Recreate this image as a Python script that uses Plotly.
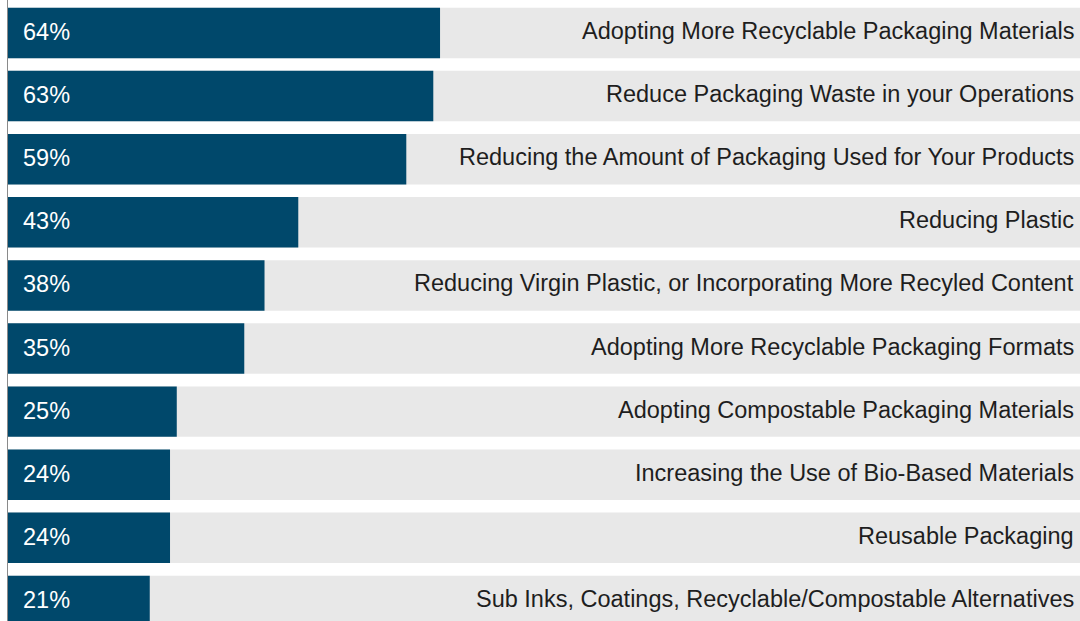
import plotly.graph_objects as go

categories = [
    "Adopting More Recyclable Packaging Materials",
    "Reduce Packaging Waste in your Operations",
    "Reducing the Amount of Packaging Used for Your Products",
    "Reducing Plastic",
    "Reducing Virgin Plastic, or Incorporating More Recyled Content",
    "Adopting More Recyclable Packaging Formats",
    "Adopting Compostable Packaging Materials",
    "Increasing the Use of Bio-Based Materials",
    "Reusable Packaging",
    "Sub Inks, Coatings, Recyclable/Compostable Alternatives",
]
values = [64, 63, 59, 43, 38, 35, 25, 24, 24, 21]

BLUE = "#00486B"
TRACK = "#E8E8E8"
X_MAX = 158.8

rows = list(range(len(categories)))

fig = go.Figure()
# full-width light track behind each bar
fig.add_trace(go.Bar(
    x=[X_MAX * 1.2] * len(rows), y=rows, orientation="h",
    marker=dict(color=TRACK, line=dict(width=0)), width=0.8,
    hoverinfo="skip", showlegend=False,
))
fig.add_trace(go.Bar(
    x=values, y=rows, orientation="h",
    marker=dict(color=BLUE, line=dict(width=0)), width=0.8,
    hovertext=categories, showlegend=False,
))

for r, (cat, v) in enumerate(zip(categories, values)):
    fig.add_annotation(
        x=0, y=r, text=f"{v}%", showarrow=False, xanchor="left",
        xshift=13, yshift=1,
        font=dict(color="white", size=23.5, family="Liberation Sans"),
    )
    fig.add_annotation(
        x=X_MAX, y=r, text=cat, showarrow=False, xanchor="right",
        xshift=-4, yshift=2,
        font=dict(color="#1E1E1E", size=23.5, family="Liberation Sans"),
    )

fig.update_layout(
    width=1080, height=621,
    margin=dict(l=8, r=0, t=0, b=0),
    barmode="overlay",
    plot_bgcolor="white", paper_bgcolor="white",
    xaxis=dict(range=[0, X_MAX], visible=False, fixedrange=True),
    yaxis=dict(range=[9.318, -0.523], showticklabels=False, showgrid=False,
               zeroline=False, showline=True, linecolor="#8A8A8A", linewidth=1,
               ticks=""),
)

fig.write_html("out.html")
